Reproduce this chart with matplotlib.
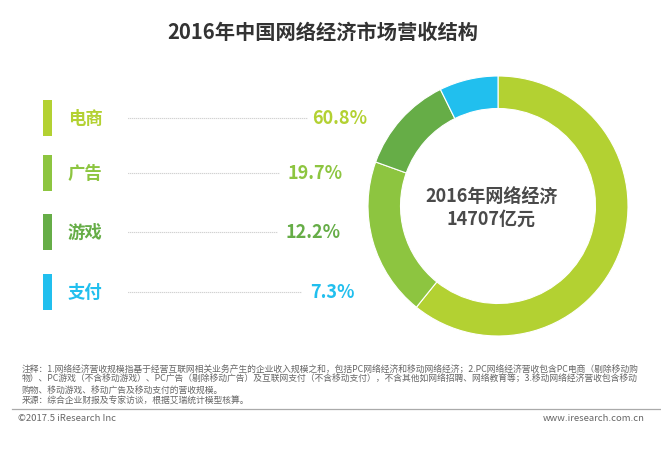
import matplotlib
matplotlib.use("Agg")
import matplotlib.pyplot as plt

plt.rcParams['font.family'] = ['Noto Sans CJK SC', 'DejaVu Sans']

categories = ['电商', '广告', '游戏', '支付']
shares = [60.8, 19.7, 12.2, 7.3]
colors = ['#B3D132', '#8DC540', '#66AD47', '#21BFEE']
title = '2016年中国网络经济市场营收结构'
center_text = '2016年网络经济\n14707亿元'
notes = ['注释：1.网络经济营收规模指基于经营互联网相关业务产生的企业收入规模之和，包括PC网络经济和移动网络经济；2.PC网络经济营收包含PC电商（剔除移动购',
         '物）、PC游戏（不含移动游戏）、PC广告（剔除移动广告）及互联网支付（不含移动支付），不含其他如网络招聘、网络教育等；3.移动网络经济营收包含移动',
         '购物、移动游戏、移动广告及移动支付的营收规模。',
         '来源：综合企业财报及专家访谈，根据艾瑞统计模型核算。']
copyright_text = '©2017.5 iResearch Inc'
site_text = 'www.iresearch.com.cn'

W, H = 661, 452
fig = plt.figure(figsize=(W / 100, H / 100), dpi=100)
fig.patch.set_facecolor('white')

# overlay axes in pixel coords
ax = fig.add_axes([0, 0, 1, 1])
ax.set_xlim(0, W)
ax.set_ylim(H, 0)
ax.axis('off')

ax.text(323, 32, title, ha='center', va='center', fontsize=14.6, fontweight='bold', color='#333333')

row_y = [119, 174, 233, 293]
dot_end = [307, 280, 278, 302]
pct_x = [367, 343, 341, 355]
for i, (cat, v, c) in enumerate(zip(categories, shares, colors)):
    y = row_y[i]
    ax.bar(47.5, 36, bottom=y - 18, width=9, color=c)
    ax.text(68, y, cat, ha='left', va='center', fontsize=12.5, fontweight='bold', color=c)
    ax.plot([128, dot_end[i]], [y, y], linestyle=(0, (0.6, 1.2)), color='#a8a8a8', linewidth=0.8)
    ax.text(pct_x[i], y, f'{v}%', ha='right', va='center', fontsize=13, fontweight='bold', color=c)

note_y = [369, 379.5, 390, 401]
for y, t in zip(note_y, notes):
    ax.text(22, y, t, ha='left', va='center', fontsize=6.35, color='#666666')
ax.plot([12, 661], [410, 410], color='#aaaaaa', linewidth=0.9)
ax.text(18, 419, copyright_text, ha='left', va='center', fontsize=6.8, color='#666666')
ax.text(645, 419, site_text, ha='right', va='center', fontsize=6.8, color='#666666')

# donut
cx, cy, r = 498, 207, 130
pax = fig.add_axes([(cx - r) / W, (H - cy - r) / H, 2 * r / W, 2 * r / H])
pax.pie(shares, colors=colors, startangle=90, counterclock=False,
        wedgeprops=dict(width=0.25, edgecolor='white', linewidth=0.8))
pax.set_xlim(-1.0, 1.0)
pax.set_ylim(-1.0, 1.0)
pax.set_aspect('equal')
pax.axis('off')
pax.text(-0.05, -0.01, center_text, ha='center', va='center', fontsize=13,
         fontweight='bold', color='#4a4a4a', linespacing=1.2)

fig.savefig('out.png', dpi=100, facecolor='white')
